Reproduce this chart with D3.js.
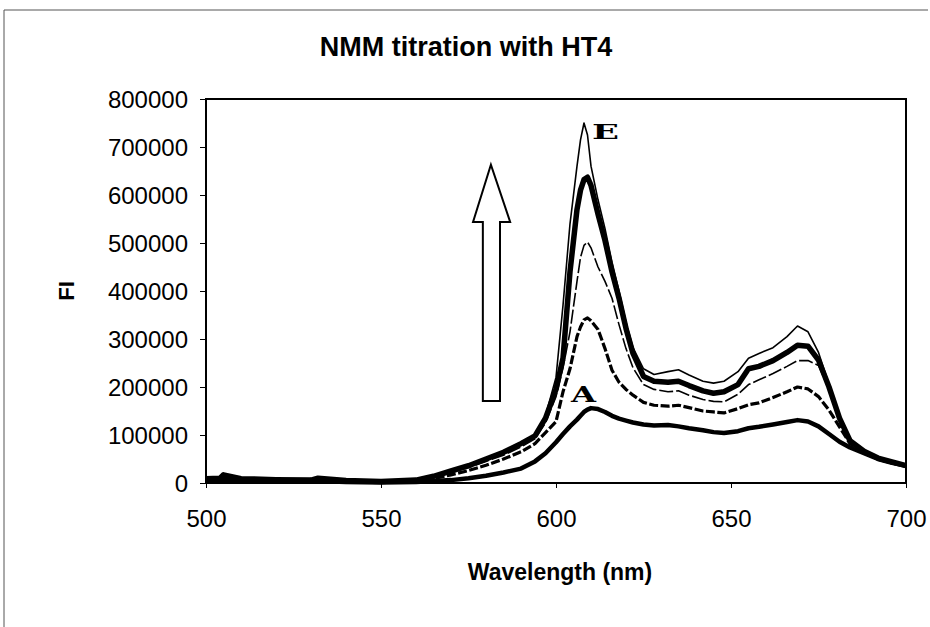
<!DOCTYPE html>
<html>
<head>
<meta charset="utf-8">
<script src="https://cdn.jsdelivr.net/npm/d3@7/dist/d3.min.js"></script>
<style>
  body { margin: 0; background: #fff; }
  text { font-family: "Liberation Sans", Arial, sans-serif; fill: #000; }
</style>
</head>
<body>
<div id="my_dataviz"></div>
<script>

// wavelength grid (nm) shared by all spectra
var wavelength = [500, 504, 505, 510, 520, 530, 532, 540, 550, 560, 565, 570, 575, 580, 585, 590, 594, 597, 600, 602, 604, 606, 607, 608, 609, 610, 612, 614, 616, 618, 620, 622, 625, 628, 632, 635, 638, 642, 645, 648, 652, 655, 658, 662, 666, 669, 672, 675, 678, 681, 684, 688, 692, 696, 700];

var specA = [6000, 6000, 7000, 5000, 4000, 3000, 4000, 2000, 1000, 2000, 4000, 6000, 10000, 15000, 22000, 30000, 45000, 62000, 85000, 102000, 118000, 132000, 140000, 148000, 153000, 156000, 154000, 148000, 140000, 134000, 130000, 126000, 122000, 120000, 121000, 118000, 114000, 110000, 106000, 104000, 108000, 114000, 117000, 122000, 127000, 131000, 128000, 118000, 102000, 86000, 74000, 62000, 50000, 42000, 36000];

var specB = [7000, 7000, 8000, 6000, 5000, 4000, 5000, 3000, 2000, 4000, 9000, 17000, 26000, 37000, 50000, 65000, 82000, 105000, 128000, 190000, 238000, 305000, 325000, 340000, 344000, 338000, 320000, 280000, 235000, 210000, 195000, 183000, 168000, 162000, 160000, 162000, 157000, 150000, 148000, 146000, 155000, 163000, 167000, 178000, 190000, 200000, 196000, 180000, 152000, 117000, 82000, 64000, 50000, 42000, 35000];

var specC = [7000, 8000, 9000, 7000, 5000, 5000, 6000, 4000, 2000, 5000, 12000, 22000, 32000, 45000, 58000, 75000, 92000, 125000, 180000, 240000, 315000, 420000, 470000, 495000, 502000, 490000, 450000, 420000, 385000, 330000, 280000, 240000, 205000, 195000, 190000, 192000, 183000, 174000, 170000, 169000, 185000, 205000, 215000, 228000, 243000, 255000, 255000, 245000, 195000, 132000, 86000, 65000, 51000, 43000, 36000];

var specD = [9000, 10000, 17000, 9000, 7000, 6000, 10000, 5000, 3000, 6000, 14000, 25000, 36000, 50000, 64000, 82000, 98000, 135000, 195000, 260000, 440000, 570000, 610000, 632000, 637000, 620000, 560000, 505000, 440000, 385000, 322000, 270000, 222000, 212000, 210000, 212000, 203000, 192000, 187000, 190000, 205000, 238000, 243000, 255000, 272000, 287000, 285000, 256000, 200000, 135000, 88000, 66000, 52000, 44000, 36000];

var specE = [8000, 9000, 11000, 8000, 6000, 5000, 6000, 4000, 3000, 7000, 15000, 26000, 38000, 52000, 66000, 85000, 100000, 140000, 220000, 370000, 540000, 660000, 715000, 750000, 725000, 660000, 590000, 530000, 460000, 400000, 335000, 282000, 238000, 226000, 232000, 236000, 225000, 212000, 208000, 212000, 232000, 260000, 270000, 282000, 305000, 327000, 315000, 272000, 205000, 140000, 90000, 68000, 54000, 45000, 37000];

var xTicks = [500, 550, 600, 650, 700];
var yTicks = [0, 100000, 200000, 300000, 400000, 500000, 600000, 700000, 800000];

var margin = {top: 99, right: 24, bottom: 144, left: 206},
    width = 930 - margin.left - margin.right,
    height = 627 - margin.top - margin.bottom;

var root = d3.select("#my_dataviz")
  .append("svg")
    .attr("width", width + margin.left + margin.right)
    .attr("height", height + margin.top + margin.bottom);

// thin outer frame (top and left edges of the scan)
root.append("line")
  .attr("x1", 4).attr("y1", 10).attr("x2", 928).attr("y2", 10)
  .attr("stroke", "#555").attr("stroke-width", 1);
root.append("line")
  .attr("x1", 4).attr("y1", 10).attr("x2", 4).attr("y2", 627)
  .attr("stroke", "#555").attr("stroke-width", 1);

var svg = root.append("g")
    .attr("transform", "translate(" + margin.left + "," + margin.top + ")");

var x = d3.scaleLinear()
  .domain([500, 700])
  .range([0, width]);

var y = d3.scaleLinear()
  .domain([0, 800000])
  .range([height, 0]);

var xAxis = svg.append("g")
  .attr("transform", "translate(0," + height + ")")
  .call(d3.axisBottom(x).tickValues(xTicks).tickSize(5).tickPadding(22).tickFormat(d3.format("d")));
xAxis.select(".domain").remove();
xAxis.selectAll("text").style("font-size", "24px");

var yAxis = svg.append("g")
  .call(d3.axisLeft(y).tickValues(yTicks).tickSize(6).tickPadding(12).tickFormat(d3.format("d")));
yAxis.select(".domain").remove();
yAxis.selectAll("text").style("font-size", "24px").attr("dy", "0.36em");

// plot frame
svg.append("rect")
  .attr("x", 0).attr("y", 0)
  .attr("width", width).attr("height", height)
  .attr("fill", "none")
  .attr("stroke", "#000")
  .attr("stroke-width", 2);

var series = [
  {name: "A", values: specA, w: 4.5, dash: null},
  {name: "B", values: specB, w: 3.2, dash: "9,2.5"},
  {name: "C", values: specC, w: 1.6, dash: "14,3"},
  {name: "D", values: specD, w: 5.5, dash: null},
  {name: "E", values: specE, w: 1.6, dash: null}
];

var line = d3.line()
  .x(function(d) { return x(d[0]); })
  .y(function(d) { return y(d[1]); });

svg.selectAll("path.spec")
  .data(series)
  .enter()
  .append("path")
    .attr("class", "spec")
    .attr("fill", "none")
    .attr("stroke", "#000")
    .attr("stroke-linejoin", "round")
    .attr("stroke-width", function(d) { return d.w; })
    .attr("stroke-dasharray", function(d) { return d.dash; })
    .attr("d", function(d) { return line(wavelength.map(function(w, i) { return [w, d.values[i]]; })); });

// hollow block arrow, placed in data units
var arrow = [
  [579.1, 171000], [584.0, 171000], [584.0, 544000], [586.9, 544000],
  [581.4, 663000], [576.3, 544000], [579.1, 544000]
];
svg.append("path")
  .attr("d", d3.line().x(function(d) { return x(d[0]); }).y(function(d) { return y(d[1]); })(arrow) + "Z")
  .attr("fill", "#fff")
  .attr("stroke", "#000")
  .attr("stroke-width", 2);

// curve labels
svg.append("text")
  .attr("x", x(610.3)).attr("y", y(716000))
  .attr("textLength", 27).attr("lengthAdjust", "spacingAndGlyphs")
  .style("font-family", "'DejaVu Serif', serif")
  .style("font-weight", "bold")
  .style("font-size", "20px")
  .text("E");
svg.append("text")
  .attr("x", x(604.3)).attr("y", y(168000))
  .attr("textLength", 25).attr("lengthAdjust", "spacingAndGlyphs")
  .style("font-family", "'DejaVu Serif', serif")
  .style("font-weight", "bold")
  .style("font-size", "22px")
  .text("A");

// titles
root.append("text")
  .attr("x", 466).attr("y", 56)
  .attr("text-anchor", "middle")
  .style("font-size", "27px")
  .style("font-weight", "bold")
  .text("NMM titration with HT4");

root.append("text")
  .attr("x", 560).attr("y", 580)
  .attr("text-anchor", "middle")
  .style("font-size", "23px")
  .style("font-weight", "bold")
  .text("Wavelength (nm)");

root.append("text")
  .attr("transform", "translate(74,291) rotate(-90)")
  .attr("text-anchor", "middle")
  .style("font-size", "22px")
  .style("font-weight", "bold")
  .text("FI");

</script>
</body>
</html>
